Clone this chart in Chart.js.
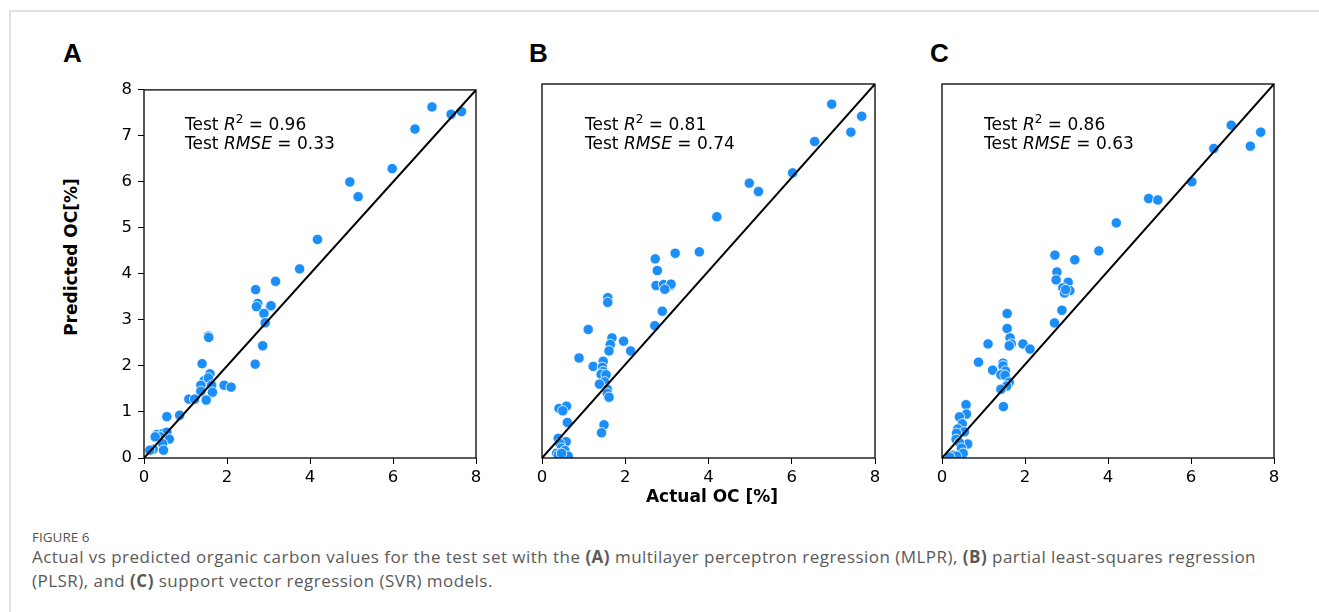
<!DOCTYPE html>
<html>
<head>
<meta charset="utf-8">
<script src="https://cdn.jsdelivr.net/npm/chart.js@4/dist/chart.umd.min.js"></script>
<style>
  body { margin: 0; background: #fff; width: 1319px; height: 612px; overflow: hidden; position: relative; font-family: 'DejaVu Sans', sans-serif; }
  .frame { position: absolute; left: 9px; top: 10px; width: 1330px; height: 700px; border-left: 2px solid #e2e2e2; border-top: 2px solid #e2e2e2; }
  canvas { position: absolute; top: 74px; }
  #cA { left: 94px; }
  #cB { left: 492px; }
  #cC { left: 892px; }
  .letter { position: absolute; top: 40px; font: bold 26px 'Liberation Sans', Arial, sans-serif; line-height: 1; color: #000; }
  .stat { position: absolute; top: 115px; font-size: 17px; line-height: 19px; color: #000; white-space: nowrap; }
  .stat i { font-style: oblique; }
  .stat sup { font-size: 12px; line-height: 0; vertical-align: baseline; position: relative; top: -7px; }
  .ylab { position: absolute; left: 71px; top: 257px; transform: translate(-50%, -50%) rotate(-90deg); font-weight: bold; font-size: 17px; line-height: 20px; white-space: nowrap; }
  .xlab { position: absolute; left: 712px; top: 496px; transform: translate(-50%, -50%); font-weight: bold; font-size: 17px; line-height: 20px; white-space: nowrap; }
  .fig { position: absolute; left: 32px; top: 529px; font: 13.5px 'Open Sans', sans-serif; line-height: 16px; color: #555; }
  .cap { position: absolute; left: 32px; top: 545px; font: 17px 'Open Sans', sans-serif; letter-spacing: 0.47px; line-height: 24px; color: #5a5a5a; white-space: nowrap; }
  .cap b { font-weight: 700; }
</style>
</head>
<body>
<div class="frame"></div>
<div class="letter" style="left:63px">A</div>
<div class="letter" style="left:529px">B</div>
<div class="letter" style="left:930px">C</div>
<canvas id="cA" width="396" height="416"></canvas>
<canvas id="cB" width="396" height="416"></canvas>
<canvas id="cC" width="396" height="416"></canvas>
<div class="ylab">Predicted OC[%]</div>
<div class="xlab">Actual OC [%]</div>
<div class="fig">FIGURE 6</div>
<div class="cap">Actual vs predicted organic carbon values for the test set with the <b>(A)</b> multilayer perceptron regression (MLPR), <b>(B)</b> partial least-squares regression<br>(PLSR), and <b>(C)</b> support vector regression (SVR) models.</div>

<script>
// --- data ---
const xTicks = [0, 2, 4, 6, 8];
const yTicks = [0, 1, 2, 3, 4, 5, 6, 7, 8];
const identityLine = [0, 8];

const r2Values = [0.96, 0.81, 0.86];
const rmseValues = [0.33, 0.74, 0.63];

// MLPR
const aActual = [6.94, 7.40, 7.65, 6.53, 5.98, 4.96, 5.16, 4.18, 3.75, 3.17, 2.69, 2.74, 2.71, 3.04, 3.06, 2.89, 2.92, 2.86, 2.68,
  1.55, 1.56, 1.40, 1.59, 1.45, 1.37, 1.55, 1.63, 1.37, 1.65, 1.50, 1.93, 2.10, 1.08, 1.22, 0.86, 0.55,
  0.31, 0.47, 0.55, 0.39, 0.61, 0.27, 0.45, 0.22, 0.47, 0.14];
const aPredicted = [7.63, 7.47, 7.53, 7.15, 6.29, 6.00, 5.68, 4.75, 4.11, 3.84, 3.66, 3.36, 3.29, 3.29, 3.31, 3.14, 2.94, 2.44, 2.04,
  2.65, 2.62, 2.05, 1.83, 1.68, 1.58, 1.74, 1.58, 1.45, 1.43, 1.26, 1.58, 1.54, 1.28, 1.28, 0.93, 0.90,
  0.51, 0.54, 0.56, 0.46, 0.41, 0.46, 0.31, 0.19, 0.17, 0.17];

// PLSR
const bActual = [6.96, 7.68, 7.42, 6.55, 6.02, 4.98, 5.20, 4.20, 3.78, 3.20, 2.72, 2.77, 2.74, 2.92, 3.09, 3.10, 2.95,
  1.58, 1.58, 2.89, 2.71, 1.11, 1.68, 1.96, 1.64, 1.61, 2.13, 0.89, 1.47, 1.23, 1.45, 1.47, 1.42, 1.54, 1.50,
  1.38, 1.57, 1.57, 1.61, 0.41, 0.59, 0.50, 0.61, 1.49, 1.43, 0.39, 0.58, 0.43, 0.47, 0.55, 0.35, 0.63, 0.39, 0.47];
const bPredicted = [7.57, 7.31, 6.97, 6.77, 6.10, 5.88, 5.70, 5.16, 4.41, 4.38, 4.26, 4.01, 3.69, 3.71, 3.69, 3.72, 3.61,
  3.43, 3.33, 3.14, 2.83, 2.75, 2.57, 2.50, 2.43, 2.29, 2.29, 2.14, 2.07, 1.96, 1.94, 1.85, 1.79, 1.78, 1.63,
  1.58, 1.47, 1.38, 1.30, 1.06, 1.11, 1.01, 0.76, 0.71, 0.54, 0.42, 0.35, 0.31, 0.21, 0.16, 0.10, 0.04, 0.06, 0.10];

// SVR
const cActual = [6.97, 7.68, 7.43, 6.55, 6.02, 4.98, 5.20, 4.20, 3.78, 2.72, 3.20, 2.77, 2.75, 3.04, 2.91, 3.08, 2.95, 2.98,
  1.57, 2.89, 1.57, 2.71, 1.64, 1.11, 1.95, 1.67, 1.62, 2.12, 0.88, 1.47, 1.47, 1.22, 1.53, 1.42, 1.52, 1.62,
  1.56, 1.42, 1.48, 0.58, 0.59, 0.42, 0.49, 0.38, 0.54, 0.35, 0.62, 0.34, 0.42, 0.47, 0.51, 0.27, 0.35, 0.19];
const cPredicted = [7.12, 6.97, 6.67, 6.62, 5.91, 5.55, 5.52, 5.03, 4.43, 4.34, 4.24, 3.98, 3.81, 3.76, 3.64, 3.58, 3.53, 3.60,
  3.09, 3.16, 2.77, 2.89, 2.57, 2.44, 2.44, 2.44, 2.40, 2.33, 2.05, 2.03, 1.97, 1.88, 1.86, 1.78, 1.77, 1.62,
  1.54, 1.47, 1.10, 1.14, 0.94, 0.88, 0.73, 0.62, 0.56, 0.53, 0.30, 0.40, 0.33, 0.21, 0.10, 0.06, 0.04, 0.02];

// --- chart setup ---
const boxPlugin = {
  id: 'box',
  afterDraw(chart) {
    const { ctx, chartArea: a } = chart;
    ctx.save();
    ctx.strokeStyle = '#000';
    ctx.lineWidth = 1.3;
    ctx.strokeRect(a.left, a.top, a.right - a.left, a.bottom - a.top);
    ctx.restore();
  }
};

const tickFont = { family: 'DejaVu Sans', size: 16.5 };

function makePanel(id, actual, predicted, showY, padRight) {
  const pts = actual.map((x, i) => ({ x: x, y: predicted[i] }));
  const line = identityLine.map(v => ({ x: v, y: v }));
  return new Chart(document.getElementById(id), {
    type: 'scatter',
    data: {
      datasets: [
        {
          data: line,
          showLine: true,
          borderColor: '#000',
          borderWidth: 2,
          pointRadius: 0,
          order: 0
        },
        {
          data: pts,
          backgroundColor: '#1c8ef7',
          borderColor: '#fff',
          borderWidth: 0.8,
          pointRadius: 5.2,
          order: 1
        }
      ]
    },
    options: {
      animation: false,
      responsive: false,
      layout: { padding: { top: 10, right: padRight, left: 0, bottom: 0 } },
      plugins: { legend: { display: false }, tooltip: { enabled: false } },
      scales: {
        x: {
          type: 'linear', min: 0, max: 8,
          afterBuildTicks: s => { s.ticks = xTicks.map(v => ({ value: v })); },
          afterFit: s => { s.height = 32; },
          grid: { drawOnChartArea: false, color: '#000', tickLength: 6, lineWidth: 1 },
          border: { display: false },
          ticks: { color: '#000', font: tickFont, padding: 4, maxRotation: 0 }
        },
        y: {
          type: 'linear', min: 0, max: 8,
          afterBuildTicks: s => { s.ticks = yTicks.map(v => ({ value: v })); },
          afterFit: s => { s.width = 50; },
          grid: { display: showY, drawOnChartArea: false, color: '#000', tickLength: 6, lineWidth: 1 },
          border: { display: false },
          ticks: { display: showY, color: '#000', font: tickFont, padding: 6 }
        }
      }
    },
    plugins: [boxPlugin]
  });
}

makePanel('cA', aActual, aPredicted, true, 14);
makePanel('cB', bActual, bPredicted, false, 13);
makePanel('cC', cActual, cPredicted, false, 14);

// stats text, placed inside each panel
const statLeft = [185, 585, 984];
statLeft.forEach((left, i) => {
  const d = document.createElement('div');
  d.className = 'stat';
  d.style.left = left + 'px';
  d.innerHTML = 'Test <i>R</i><sup>2</sup> = ' + r2Values[i].toFixed(2) +
    '<br>Test <i>RMSE</i> = ' + rmseValues[i].toFixed(2);
  document.body.appendChild(d);
});
</script>
</body>
</html>
